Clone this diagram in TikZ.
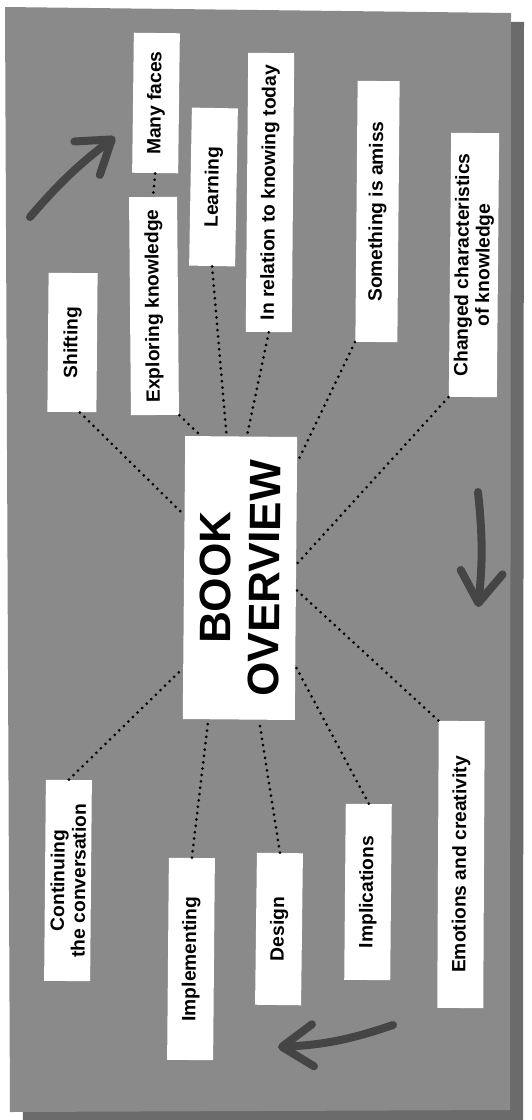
\documentclass[tikz,border=0pt]{standalone}
\usepackage{fontspec}
\setmainfont{Liberation Sans}
\usetikzlibrary{arrows.meta,calc}

\definecolor{panelgrey}{HTML}{8A8A8A}
\definecolor{shadowgrey}{HTML}{6B6B6B}
\definecolor{arrowgrey}{HTML}{454545}

\begin{document}
\begin{tikzpicture}[x=0.5pt,y=-0.5pt,
  topic/.style={rotate=90, fill=white, inner sep=0pt, align=center, minimum height=23pt,
    font=\bfseries\fontsize{9.6}{10.5}\selectfont},
  hub/.style={rotate=89.5, fill=white, inner sep=0pt, align=center, minimum width=141.5pt,
    minimum height=56pt, font=\bfseries\fontsize{22}{24.5}\selectfont},
  link/.style={black, line width=1.5pt, line cap=round, dash pattern=on 0pt off 3.2pt},
  turn/.style={arrowgrey, line width=4pt, line cap=round,
    -{Straight Barb[length=15.5pt, width=21pt, round]}}]
\useasboundingbox (0,0) rectangle (531,1120);

% panel and its shadow
\fill[shadowgrey] (18,16) -- (524,22) -- (523,1125) -- (23,1125) -- cycle;
\fill[panelgrey] (5,7) -- (511,13) -- (510,1110) -- (10,1112) -- cycle;

\node[hub] (ov) at (240,578) {BOOK\\OVERVIEW};

\node[topic, minimum width=70pt, rotate=-0.7] (mf) at (156,103) {Many faces};
\node[topic, minimum width=79pt, rotate=-1] (learn) at (213.5,187) {Learning};
\node[topic, minimum width=139.5pt, rotate=-0.5] (rel) at (270,192.5) {In relation to knowing today};
\node[topic, minimum width=130.5pt, minimum height=21pt, rotate=-0.5] (amiss) at (377.5,211.5) {Something is amiss};
\node[topic, minimum width=132pt, minimum height=24pt, rotate=-0.5] (chg) at (474,265) {Changed characteristics\\of knowledge};
\node[topic, minimum width=109pt, minimum height=24pt, rotate=0.5] (expl) at (154,306) {Exploring knowledge};
\node[topic, minimum width=69.5pt, minimum height=24.5pt, rotate=-0.5] (shift) at (72.5,342.5) {Shifting};

\node[topic, minimum width=100.5pt, rotate=-0.5] (cont) at (68,880.5) {Continuing\\the conversation};
\node[topic, minimum width=101pt, rotate=-0.5] (implem) at (191,959) {Implementing};
\node[topic, minimum width=76pt, rotate=-0.7] (design) at (279,929) {Design};
\node[topic, minimum width=88pt, rotate=-0.5] (impl) at (368,892) {Implications};
\node[topic, minimum width=143.5pt, rotate=-0.3] (emo) at (461,864.5) {Emotions and creativity};

\draw[link] (mf.west) -- (expl.east);
\draw[link] (expl.south west) -- ($(ov.north east)!.14!(ov.south east)$);
\draw[link] (learn.west) -- ($(ov.north east)!.37!(ov.south east)$);
\draw[link] (rel.west) -- ($(ov.north east)!.55!(ov.south east)$);
\draw[link] ([xshift=4pt]shift.west) -- ($(ov.north east)!.28!(ov.north west)$);
\draw[link] (amiss.north west) -- ($(ov.south east)!.09!(ov.south west)$);
\draw[link] (chg.north west) -- ($(ov.south east)!.45!(ov.south west)$);
\draw[link] (emo.north east) -- ($(ov.south east)!.54!(ov.south west)$);
\draw[link] (impl.east) -- ($(ov.south east)!.81!(ov.south west)$);
\draw[link] (design.east) -- ($(ov.north west)!.68!(ov.south west)$);
\draw[link] (implem.east) -- ($(ov.north west)!.23!(ov.south west)$);
\draw[link] (cont.east) -- ($(ov.north east)!.82!(ov.north west)$);

% the three turning arrows
\draw[turn] (30,217) to[bend left=6] (115,137);
\draw[turn] (478,492) to[bend left=6] (478,607);
\draw[turn] (393,1025) to[bend left=8] (278,1047);
\end{tikzpicture}
\end{document}
